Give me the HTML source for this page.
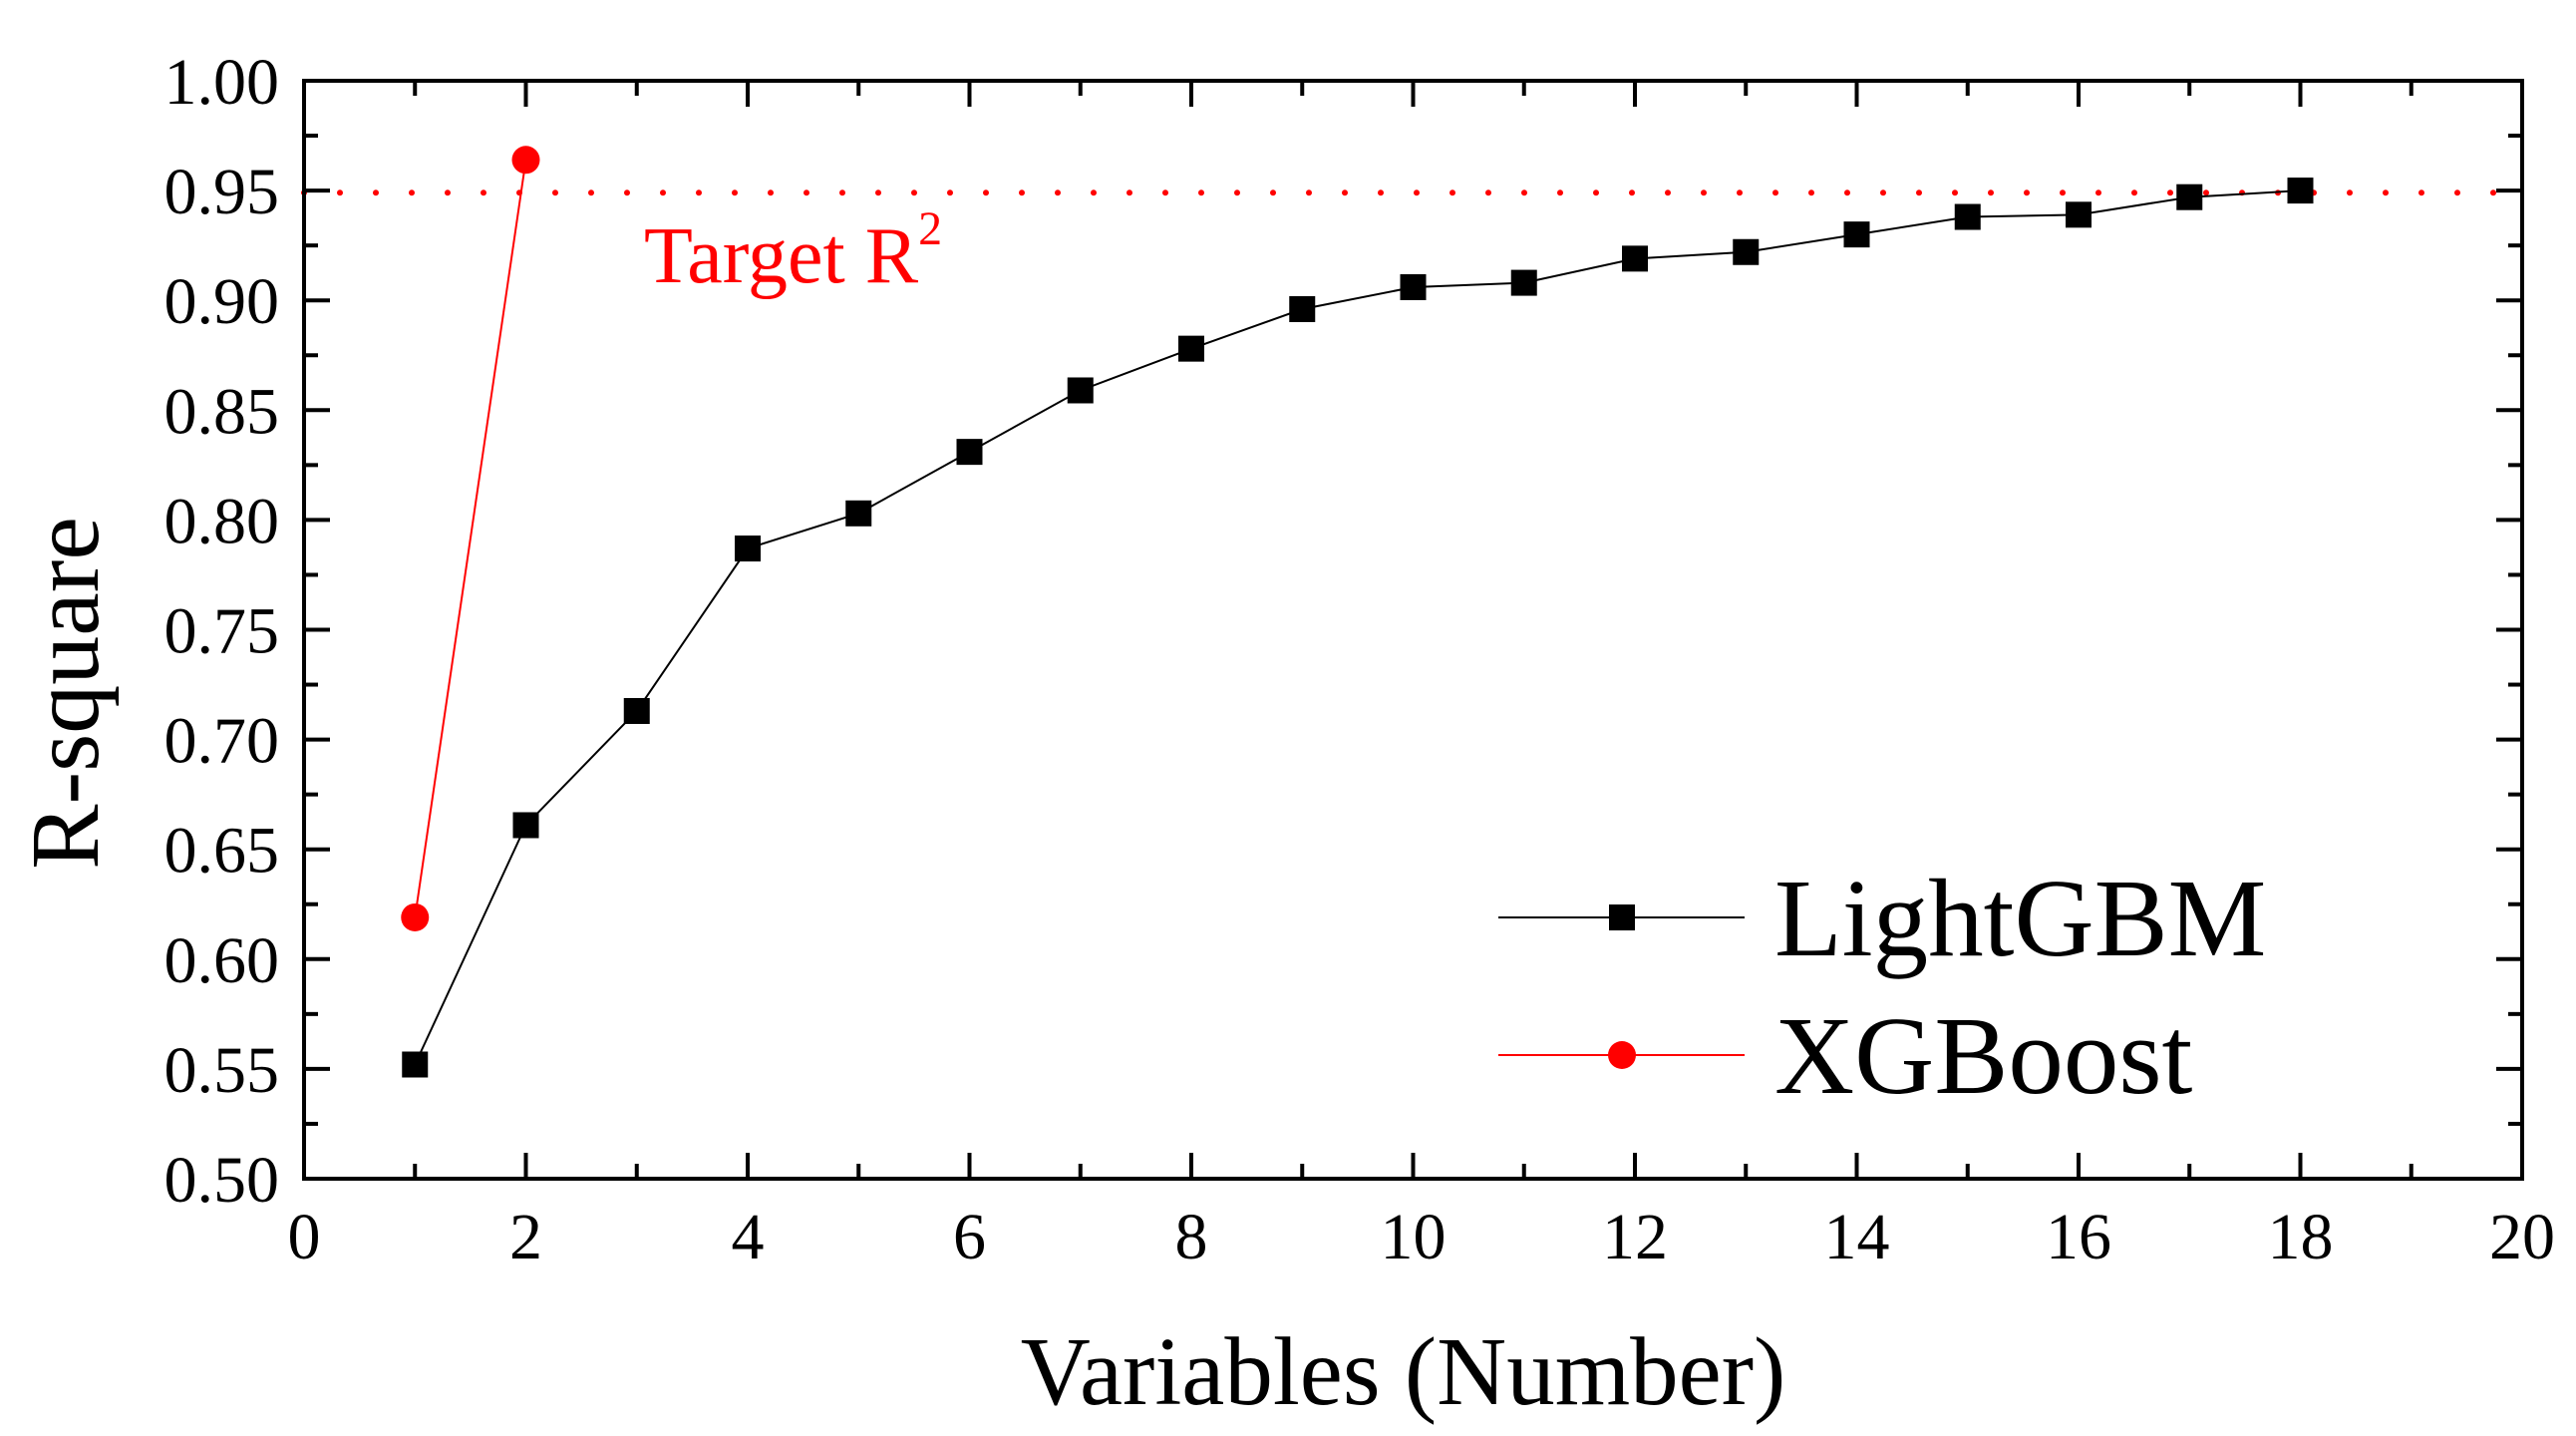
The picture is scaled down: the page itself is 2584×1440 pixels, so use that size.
<!DOCTYPE html>
<html><head><meta charset="utf-8"><style>
html,body{margin:0;padding:0;background:#fff;}
svg{display:block;font-family:"Liberation Serif",serif;}
</style></head><body>
<svg id="chart" width="2584" height="1440" viewBox="0 0 2584 1440"></svg>
<script>
const xTicks=[0,2,4,6,8,10,12,14,16,18,20];
const yTicks=[0.50,0.55,0.60,0.65,0.70,0.75,0.80,0.85,0.90,0.95,1.00];
const lgbX=[1,2,3,4,5,6,7,8,9,10,11,12,13,14,15,16,17,18];
const lgbY=[0.552,0.661,0.713,0.787,0.803,0.831,0.859,0.878,0.896,0.906,0.908,0.919,0.922,0.930,0.938,0.939,0.947,0.950];
const xgbX=[1,2];
const xgbY=[0.619,0.964];
const targetR2=0.949;

const L=305,R=2530,T=81,B=1182;
const X=v=>L+(v-0)/(20-0)*(R-L);
const Y=v=>B-(v-0.5)/(1.0-0.5)*(B-T);
const svg=document.getElementById('chart');
const NS='http://www.w3.org/2000/svg';
function mk(tag,attrs,parent){const e=document.createElementNS(NS,tag);for(const k in attrs)e.setAttribute(k,attrs[k]);(parent||svg).appendChild(e);return e;}

// target line
const tl=mk('line',{x1:L,x2:R,y1:Y(targetR2),y2:Y(targetR2),stroke:'#f00','stroke-width':6,'stroke-dasharray':'0 36','stroke-linecap':'round'});


const tt=mk('text',{x:646,y:283,'font-size':80,fill:'#f00'});


tt.textContent='Target R';
const sup=mk('tspan',{dy:-38,'font-size':48},tt);sup.textContent='2';

// axes frame
const fr=mk('rect',{x:L,y:T,width:R-L,height:B-T,fill:'none',stroke:'#000','stroke-width':4});



// x ticks
for(let v=0;v<=20;v+=1){
  const maj=v%2===0, len=maj?26:15;
  mk('line',{x1:X(v),x2:X(v),y1:B,y2:B-len,stroke:'#000','stroke-width':4});
  mk('line',{x1:X(v),x2:X(v),y1:T,y2:T+len,stroke:'#000','stroke-width':4});
}
xTicks.forEach(v=>{const t=mk('text',{x:X(v),y:1262,'font-size':66,'text-anchor':'middle'});


t.textContent=v;});
// y ticks
for(let i=0;i<=20;i++){
  const v=0.5+i*0.025, maj=i%2===0, len=maj?26:14;
  mk('line',{x1:L,x2:L+len,y1:Y(v),y2:Y(v),stroke:'#000','stroke-width':4});
  mk('line',{x1:R,x2:R-len,y1:Y(v),y2:Y(v),stroke:'#000','stroke-width':4});
}
yTicks.forEach(v=>{const t=mk('text',{x:280,y:Y(v)+23,'font-size':66,'text-anchor':'end'});


t.textContent=v.toFixed(2);});

// axis titles
const xt=mk('text',{x:(L+R)/2-10,y:1408,'font-size':97,'text-anchor':'middle'});


xt.textContent='Variables (Number)';
const yt=mk('text',{x:0,y:0,'font-size':98,'text-anchor':'middle',transform:'translate(98,695) rotate(-90)'});


yt.textContent='R-square';

// LightGBM
const lp=mk('polyline',{points:lgbX.map((x,i)=>X(x)+','+Y(lgbY[i])).join(' '),fill:'none',stroke:'#000','stroke-width':2});


lgbX.forEach((x,i)=>{const s=mk('rect',{x:X(x)-13,y:Y(lgbY[i])-13,width:26,height:26,fill:'#000'});

});
// XGBoost
const xp=mk('polyline',{points:xgbX.map((x,i)=>X(x)+','+Y(xgbY[i])).join(' '),fill:'none',stroke:'#f00','stroke-width':2});


xgbX.forEach((x,i)=>{const c=mk('circle',{cx:X(x),cy:Y(xgbY[i]),r:14,fill:'#f00'});

});

// legend
const g1=mk('g',{});


mk('line',{x1:1503,x2:1750,y1:920,y2:920,stroke:'#000','stroke-width':2},g1);
mk('rect',{x:1614,y:907,width:26,height:26,fill:'#000'},g1);
const lt1=mk('text',{x:1780,y:958,'font-size':111},g1);lt1.textContent='LightGBM';
const g2=mk('g',{});


mk('line',{x1:1503,x2:1750,y1:1058,y2:1058,stroke:'#f00','stroke-width':2},g2);
mk('circle',{cx:1627,cy:1058,r:14,fill:'#f00'},g2);
const lt2=mk('text',{x:1780,y:1096,'font-size':111},g2);lt2.textContent='XGBoost';
</script>
</body></html>
